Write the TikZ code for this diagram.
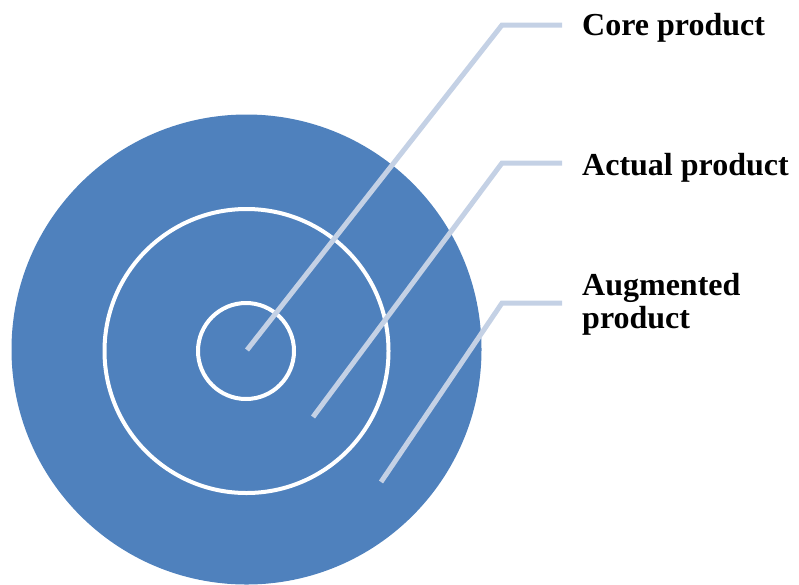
\documentclass[tikz,border=0pt]{standalone}
\usepackage{fontspec}
\setmainfont{Liberation Serif}
\definecolor{ringblue}{HTML}{4F81BD}
\definecolor{leader}{HTML}{C4D1E5}
\begin{document}
\begin{tikzpicture}[x=1pt,y=-1pt,
  leaderline/.style={draw=leader,line width=5pt},
  ring/.style={draw=white,line width=4pt},
  lbl/.style={anchor=base west,inner sep=0pt,font=\bfseries\fontsize{32}{33}\selectfont,align=left,text=black}]
\useasboundingbox (0,0) rectangle (799,584);
\fill[ringblue] (246.5,349.5) circle[radius=235];
\draw[ring] (246.5,351) circle[radius=142];
\draw[ring] (246,351) circle[radius=48];
\coordinate (c1) at (247,350);
\coordinate (c2) at (313,417);
\coordinate (c3) at (381,482);
\coordinate (e1) at (502,25);
\coordinate (e2) at (502,163);
\coordinate (e3) at (502,303);
\coordinate (t1) at (562,25);
\coordinate (t2) at (562,163);
\coordinate (t3) at (562,303);
\node[lbl] (l1) at (582,35) {Core product};
\node[lbl] (l2) at (582,175) {Actual product};
\node[lbl] (l3) at (582,328) {Augmented\\product};
\draw[leaderline] (c1) -- (e1) -- (t1);
\draw[leaderline] (c2) -- (e2) -- (t2);
\draw[leaderline] (c3) -- (e3) -- (t3);
\end{tikzpicture}
\end{document}
